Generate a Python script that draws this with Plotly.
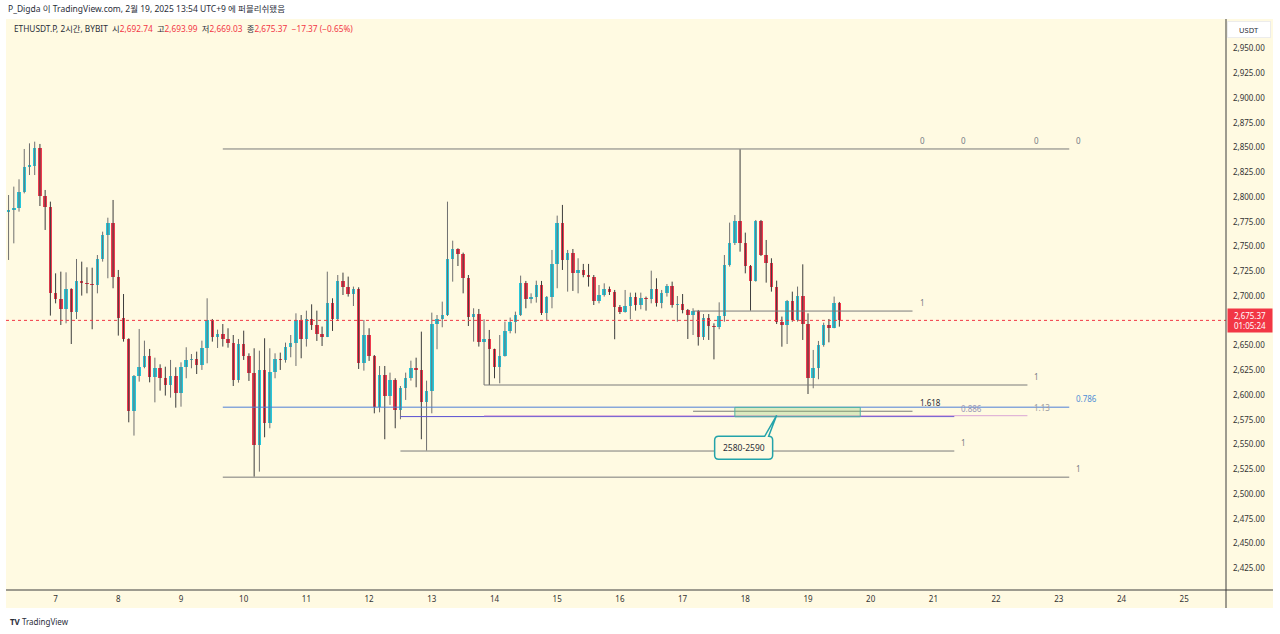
import plotly.graph_objects as go
import pandas as pd

# ---------------- data (2h candles, ETHUSDT.P, local time UTC+9) ----------------
first_bar = "2025-02-06 06:00"
opens = [2784.5, 2786.9, 2788.6, 2804.7, 2830.7, 2831.5, 2849.2, 2801.4, 2789.6, 2703.4,
         2697.0, 2686.9, 2707.1, 2684.2, 2715.2, 2713.5, 2712.1, 2710.8, 2737.1, 2761.6,
         2774.1, 2719.6, 2677.5, 2656.2, 2584.2, 2619.2, 2628.6, 2639.7, 2617.9, 2627.6,
         2616.9, 2610.1, 2619.2, 2602.4, 2628.6, 2635.4, 2636.0, 2630.3, 2647.2, 2676.2,
         2659.0, 2661.2, 2656.6, 2652.9, 2615.2, 2651.5, 2639.6, 2621.9, 2549.5, 2625.3,
         2571.4, 2623.6, 2636.1, 2635.0, 2648.9, 2652.2, 2675.8, 2656.3, 2676.5, 2670.7,
         2661.9, 2659.0, 2693.3, 2676.8, 2715.2, 2709.5, 2702.2, 2706.8, 2632.0, 2661.0,
         2639.4, 2587.6, 2620.2, 2599.4, 2615.2, 2584.9, 2606.8, 2616.9, 2627.7, 2625.3,
         2593.3, 2604.2, 2671.7, 2676.5, 2680.8, 2737.1, 2747.5, 2742.3, 2718.5, 2679.2,
         2681.9, 2653.9, 2656.6, 2646.2, 2628.6, 2639.8, 2664.7, 2674.1, 2680.8, 2713.5,
         2696.7, 2699.4, 2711.1, 2683.2, 2699.4, 2732.4, 2773.4, 2736.4, 2743.1, 2723.6,
         2726.3, 2721.2, 2718.9, 2695.3, 2701.0, 2706.8, 2704.4, 2688.6, 2684.2, 2689.9,
         2699.4, 2691.0, 2698.3, 2697.0, 2706.8, 2692.6, 2702.7, 2710.1, 2690.9, 2692.3,
         2685.9, 2680.8, 2685.2, 2659.0, 2678.1, 2670.1, 2668.4, 2680.2, 2731.3, 2753.9,
         2775.8, 2753.2, 2730.3, 2715.5, 2775.8, 2741.4, 2733.7, 2709.5, 2674.1, 2670.7,
         2695.0, 2675.8, 2700.0, 2671.4, 2617.5, 2627.0, 2650.5, 2670.7, 2668.0, 2692.74]
highs = [2802.0, 2810.5, 2817.9, 2848.5, 2854.2, 2855.9, 2853.6, 2807.1, 2795.3, 2722.9,
         2724.6, 2723.9, 2707.8, 2737.4, 2734.7, 2729.0, 2728.6, 2741.4, 2765.0, 2779.1,
         2797.0, 2726.3, 2702.0, 2657.3, 2620.2, 2666.7, 2654.9, 2646.5, 2637.7, 2631.0,
         2628.6, 2635.4, 2628.0, 2633.0, 2648.2, 2641.4, 2643.8, 2654.9, 2697.7, 2676.8,
         2666.0, 2671.7, 2667.4, 2660.6, 2656.6, 2665.0, 2642.1, 2647.2, 2644.8, 2657.3,
         2647.2, 2642.1, 2642.8, 2652.9, 2660.6, 2682.5, 2680.8, 2685.2, 2691.6, 2685.2,
         2669.1, 2724.6, 2697.7, 2721.2, 2723.6, 2719.6, 2709.5, 2708.8, 2675.8, 2667.4,
         2640.4, 2629.3, 2629.3, 2622.6, 2616.9, 2609.1, 2622.6, 2634.7, 2637.7, 2664.0,
         2614.5, 2683.2, 2680.8, 2694.3, 2795.3, 2755.9, 2748.2, 2743.8, 2721.2, 2687.6,
         2686.9, 2676.5, 2665.7, 2646.8, 2660.6, 2674.1, 2678.2, 2684.2, 2720.6, 2715.2,
         2702.7, 2715.5, 2715.2, 2700.0, 2746.5, 2781.2, 2792.0, 2746.5, 2747.5, 2738.1,
         2732.4, 2732.4, 2721.2, 2711.1, 2712.8, 2709.5, 2706.1, 2690.9, 2706.1, 2703.4,
         2703.4, 2703.4, 2699.4, 2725.6, 2717.9, 2706.1, 2712.1, 2714.5, 2700.0, 2702.0,
         2686.9, 2687.6, 2685.9, 2681.8, 2681.8, 2672.4, 2693.6, 2741.4, 2774.1, 2781.8,
         2848.2, 2764.0, 2731.3, 2776.8, 2776.8, 2756.6, 2738.1, 2715.5, 2679.2, 2696.0,
         2704.4, 2709.5, 2732.0, 2682.5, 2645.5, 2654.6, 2673.1, 2676.8, 2699.4, 2693.99]
lows = [2736.4, 2753.2, 2785.2, 2803.7, 2822.2, 2822.2, 2790.9, 2766.7, 2680.2, 2692.6,
        2670.7, 2672.4, 2651.5, 2676.8, 2700.4, 2702.7, 2666.4, 2702.7, 2734.7, 2717.9,
        2707.8, 2660.0, 2653.9, 2572.4, 2559.0, 2613.5, 2627.0, 2612.8, 2592.6, 2604.4,
        2599.4, 2597.3, 2587.2, 2588.2, 2616.9, 2627.0, 2621.2, 2625.3, 2632.0, 2653.9,
        2647.5, 2648.9, 2647.8, 2609.1, 2612.5, 2635.4, 2614.2, 2517.5, 2522.6, 2557.3,
        2566.4, 2616.9, 2625.3, 2632.7, 2638.1, 2629.3, 2637.1, 2648.9, 2665.7, 2654.6,
        2649.5, 2658.5, 2664.7, 2674.8, 2701.0, 2699.4, 2689.9, 2626.3, 2624.6, 2634.4,
        2581.5, 2582.5, 2555.3, 2590.0, 2566.4, 2575.5, 2595.0, 2614.5, 2607.8, 2555.3,
        2543.8, 2581.5, 2646.2, 2668.4, 2679.8, 2714.5, 2730.3, 2702.7, 2669.7, 2653.9,
        2648.9, 2610.1, 2610.1, 2616.9, 2611.8, 2638.8, 2662.3, 2662.3, 2679.8, 2687.6,
        2692.6, 2693.3, 2680.8, 2675.8, 2687.6, 2707.8, 2726.3, 2704.4, 2705.1, 2702.7,
        2718.9, 2709.5, 2690.9, 2692.6, 2699.4, 2701.0, 2656.3, 2681.8, 2683.2, 2676.5,
        2685.2, 2686.6, 2685.2, 2692.6, 2689.3, 2687.6, 2699.4, 2688.2, 2674.1, 2682.5,
        2656.6, 2660.6, 2649.9, 2655.6, 2655.6, 2636.0, 2666.4, 2674.1, 2729.7, 2751.5,
        2744.8, 2722.9, 2685.2, 2714.5, 2740.4, 2713.5, 2704.4, 2671.7, 2648.8, 2651.5,
        2674.1, 2674.1, 2655.6, 2601.0, 2606.8, 2615.9, 2648.8, 2653.2, 2667.4, 2669.03]
closes = [2786.9, 2788.6, 2804.7, 2830.7, 2831.5, 2849.2, 2801.4, 2789.6, 2703.4, 2697.0,
          2686.9, 2707.1, 2684.2, 2715.2, 2713.5, 2712.1, 2710.8, 2737.1, 2761.6, 2774.1,
          2719.6, 2677.5, 2656.2, 2584.2, 2619.2, 2628.6, 2639.7, 2617.9, 2627.6, 2616.9,
          2610.1, 2619.2, 2602.4, 2628.6, 2635.4, 2636.0, 2630.3, 2647.2, 2676.2, 2659.0,
          2661.2, 2656.6, 2652.9, 2615.2, 2651.5, 2639.6, 2621.9, 2549.5, 2625.3, 2571.4,
          2623.6, 2636.1, 2635.0, 2648.9, 2652.2, 2675.8, 2656.3, 2676.5, 2670.7, 2661.9,
          2659.0, 2693.3, 2676.8, 2715.2, 2709.5, 2702.2, 2706.8, 2632.0, 2661.0, 2639.4,
          2587.6, 2620.2, 2599.4, 2615.2, 2584.9, 2606.8, 2616.9, 2627.7, 2625.3, 2593.3,
          2604.2, 2671.7, 2676.5, 2680.8, 2737.1, 2747.5, 2742.3, 2718.5, 2679.2, 2681.9,
          2653.9, 2656.6, 2646.2, 2628.6, 2639.8, 2664.7, 2674.1, 2680.8, 2713.5, 2696.7,
          2699.4, 2711.1, 2683.2, 2699.4, 2732.4, 2773.4, 2736.4, 2743.1, 2723.6, 2726.3,
          2721.2, 2718.9, 2695.3, 2701.0, 2706.8, 2704.4, 2688.6, 2684.2, 2689.9, 2699.4,
          2691.0, 2698.3, 2697.0, 2706.8, 2692.6, 2702.7, 2710.1, 2690.9, 2692.3, 2685.9,
          2680.8, 2685.2, 2659.0, 2678.1, 2670.1, 2668.4, 2680.2, 2731.3, 2753.9, 2775.8,
          2753.2, 2730.3, 2715.5, 2775.8, 2741.4, 2733.7, 2709.5, 2674.1, 2670.7, 2695.0,
          2675.8, 2700.0, 2671.4, 2617.5, 2627.0, 2650.5, 2670.7, 2668.0, 2692.74, 2675.37]

# price-axis labels (2,675 is hidden behind the live price tag)
price_ticks = [2425, 2450, 2475, 2500, 2525, 2550, 2575, 2600, 2625, 2650, 2700,
               2725, 2750, 2775, 2800, 2825, 2850, 2875, 2900, 2925, 2950]
last_price = 2675.37
last_price_text = "2,675.37"
countdown_text = "01:05:24"

# Fibonacci drawings: level labels and prices
fibA_labels = ["0", "1", "1.618"]
fibA_prices = [2848.5, 2684.8, 2583.6]
fibB_labels = ["0", "0.886", "1"]
fibB_prices = [2848.5, 2578.2, 2543.4]
fibC_labels = ["0", "1", "1.13"]
fibC_prices = [2848.5, 2610.1, 2579.1]
fibD_labels = ["0", "0.786", "1"]
fibD_prices = [2848.5, 2587.7, 2517.0]

zone_prices = [2578.0, 2587.5]
zone_text = "2580-2590"

header_text = "P_Digda 이 TradingView.com, 2월 19, 2025 13:54 UTC+9 에 퍼블리쉬됐음"

# ---------------- styling ----------------
BG = "#fffae2"
UP = "#26c6da"
DOWN = "#ef3a4f"
RED = "#f23645"
FONT = "Noto Sans, Noto Sans CJK KR, sans-serif"
TXT = "#2a2e39"

times = pd.date_range(first_bar, periods=len(opens), freq="2h")

fig = go.Figure()

# wicks
wx_up, wy_up, wx_dn, wy_dn = [], [], [], []
for t, o, h, l, c in zip(times, opens, highs, lows, closes):
    if c >= o:
        wx_up += [t, t, None]
        wy_up += [l, h, None]
    else:
        wx_dn += [t, t, None]
        wy_dn += [l, h, None]
fig.add_trace(go.Scatter(x=wx_up, y=wy_up, mode="lines", line=dict(color="#6f6f6f", width=1),
                         hoverinfo="skip", showlegend=False))
fig.add_trace(go.Scatter(x=wx_dn, y=wy_dn, mode="lines", line=dict(color="#3c3c3c", width=1),
                         hoverinfo="skip", showlegend=False))

# bodies
body_base = [min(o, c) for o, c in zip(opens, closes)]
body_len = [max(abs(c - o), 1.2) for o, c in zip(opens, closes)]
body_col = [UP if c >= o else DOWN for o, c in zip(opens, closes)]
fig.add_trace(go.Bar(x=times, y=body_len, base=body_base, width=4.8e6,
                     marker=dict(color=body_col, line=dict(width=0)),
                     hoverinfo="skip", showlegend=False))

shapes = []
annotations = []

# fib drawings (start/end times of each tool)
GREY = "#7a7a7a"
fibs = [
    ("2025-02-17 04:00", "2025-02-20 16:00", fibA_labels, fibA_prices,
     [GREY, GREY, GREY], ["#787b86", "#787b86", "#2a2e39"]),
    ("2025-02-12 12:00", "2025-02-21 08:00", fibB_labels, fibB_prices,
     [GREY, "#5a50d2", GREY], ["#787b86", "#9a97b8", "#787b86"]),
    ("2025-02-13 20:00", "2025-02-22 12:00", fibC_labels, fibC_prices,
     [GREY, GREY, "#dba6d6"], ["#787b86", "#787b86", "#9a9aa0"]),
    ("2025-02-09 16:00", "2025-02-23 04:00", fibD_labels, fibD_prices,
     [GREY, "#4f7fd6", GREY], ["#787b86", "#4f8fd6", "#787b86"]),
]
widest = fibs[-1]
for x0, x1, labs, prices, lcols, tcols in fibs:
    for lab, p, lc, tc in zip(labs, prices, lcols, tcols):
        # the shared "0" level is drawn once, by the widest tool
        if lab != "0" or x0 == widest[0]:
            shapes.append(dict(type="line", xref="x", yref="y", x0=x0, x1=x1, y0=p, y1=p,
                               line=dict(color=lc, width=1)))
        annotations.append(dict(x=x1, y=p, xref="x", yref="y", text=lab, showarrow=False,
                                xanchor="left", yanchor="bottom", xshift=5, yshift=1,
                                font=dict(family=FONT, size=8, color=tc)))

# green zone rectangle
shapes.append(dict(type="rect", xref="x", yref="y", x0="2025-02-17 20:00", x1="2025-02-19 20:00",
                   y0=zone_prices[0], y1=zone_prices[1],
                   fillcolor="rgba(140,200,110,0.30)", line=dict(color="#4fb3a6", width=1)))

# callout box with pointer
c_t, c_p = "2025-02-18 12:00", 2579.5
shapes.append(dict(type="path", xref="x", yref="y", xsizemode="pixel", ysizemode="pixel",
                   xanchor=c_t, yanchor=c_p,
                   path="M -58,-21 L -12,-21 L 0,0 L -8,-21 Q -4,-21 -4,-25 L -4,-40 Q -4,-44 -8,-44 "
                        "L -58,-44 Q -62,-44 -62,-40 L -62,-25 Q -62,-21 -58,-21 Z",
                   fillcolor=BG, line=dict(color="#23a3aa", width=1.5)))
annotations.append(dict(x=c_t, y=c_p, xref="x", yref="y", text=zone_text, showarrow=False,
                        xanchor="center", yanchor="middle",
                        xshift=-33, yshift=-32.5, font=dict(family=FONT, size=8.5, color=TXT)))

# current price dotted line
shapes.append(dict(type="line", xref="paper", yref="y", x0=0, x1=1, y0=last_price, y1=last_price,
                   line=dict(color=RED, width=1, dash="dot")))

# axis areas and axis lines (paper coordinates, outside plot)
ax_bottom = (590 - 608) / 571
ax_right = (1273 - 6) / 1220
shapes.append(dict(type="rect", xref="paper", yref="paper", x0=1, x1=ax_right, y0=ax_bottom, y1=1,
                   fillcolor=BG, line=dict(width=0), layer="below"))
shapes.append(dict(type="rect", xref="paper", yref="paper", x0=0, x1=1, y0=ax_bottom, y1=0,
                   fillcolor=BG, line=dict(width=0), layer="below"))
shapes.append(dict(type="line", xref="paper", yref="paper", x0=0, x1=ax_right, y0=0, y1=0,
                   line=dict(color="#3c3c3c", width=1)))
shapes.append(dict(type="line", xref="paper", yref="paper", x0=1, x1=1, y0=ax_bottom, y1=1,
                   line=dict(color="#3c3c3c", width=1)))

# price tag
annotations.append(dict(x=1, y=last_price, xref="paper", yref="y", xanchor="left", yanchor="middle",
                        xshift=1, text=f"{last_price_text}<br>{countdown_text}", showarrow=False,
                        bgcolor=RED, borderpad=1, width=42, height=21,
                        font=dict(family=FONT, size=8, color="white")))
# USDT
annotations.append(dict(x=(1249 - 6) / 1220, y=(590 - 30) / 571, xref="paper", yref="paper",
                        xanchor="center", yanchor="middle",
                        text="USDT", showarrow=False, bgcolor="white", bordercolor="#ececec",
                        borderpad=2, width=38, height=11,
                        font=dict(family=FONT, size=7.5, color=TXT)))
# header
annotations.append(dict(x=0, y=(590 - 9) / 571, xref="paper", yref="paper", xanchor="left",
                        yanchor="middle", text=header_text, showarrow=False,
                        font=dict(family=FONT, size=8.5, color=TXT)))
legend_line = ("ETHUSDT.P, 2시간, BYBIT  시<span style='color:%s'>2,692.74</span>  "
               "고<span style='color:%s'>2,693.99</span>  저<span style='color:%s'>2,669.03</span>  "
               "종<span style='color:%s'>2,675.37</span>  <span style='color:%s'>−17.37 (−0.65%%)</span>"
               % (RED, RED, RED, RED, RED))
annotations.append(dict(x=6 / 1220, y=(590 - 28) / 571, xref="paper", yref="paper", xanchor="left",
                        yanchor="middle", text=legend_line, showarrow=False,
                        font=dict(family=FONT, size=8.3, color=TXT)))
annotations.append(dict(x=2 / 1220, y=(590 - 621) / 571, xref="paper", yref="paper", xanchor="left",
                        yanchor="middle", text="<b>TV</b> TradingView", showarrow=False,
                        font=dict(family=FONT, size=8, color=TXT)))

# axis ranges from the screen scale
ref = pd.Timestamp("2025-02-19 00:00")
px_day = 62.7
x_left = ref + pd.Timedelta(days=(6 - 808) / px_day)
x_right = ref + pd.Timedelta(days=(1226 - 808) / px_day)
y_low = 2700 - (590 - 296) / 0.99
y_high = 2700 + (296 - 19) / 0.99

fig.update_layout(
    width=1280, height=634,
    margin=dict(l=6, r=54, t=19, b=44),
    paper_bgcolor="white", plot_bgcolor=BG,
    showlegend=False, bargap=0,
    shapes=shapes, annotations=annotations,
    font=dict(family=FONT, size=8, color=TXT),
    xaxis=dict(type="date", range=[x_left, x_right], showgrid=False, zeroline=False,
               dtick=86400000, tick0="2025-02-07", tickformat="%-d", automargin=False,
               ticks="", ticklabelstandoff=3, tickfont=dict(family=FONT, size=8, color="#333"),
               rangeslider=dict(visible=False), fixedrange=True),
    yaxis=dict(side="right", range=[y_low, y_high], showgrid=False, zeroline=False,
               tickvals=price_ticks, tickformat=",.2f", ticks="", ticklabelstandoff=6,
               automargin=False,
               tickfont=dict(family=FONT, size=8, color="#333"), fixedrange=True),
)

fig.write_html("out.html", config={"displayModeBar": False, "staticPlot": True},
               post_script="document.body.style.margin='0';document.body.style.overflow='hidden';")
